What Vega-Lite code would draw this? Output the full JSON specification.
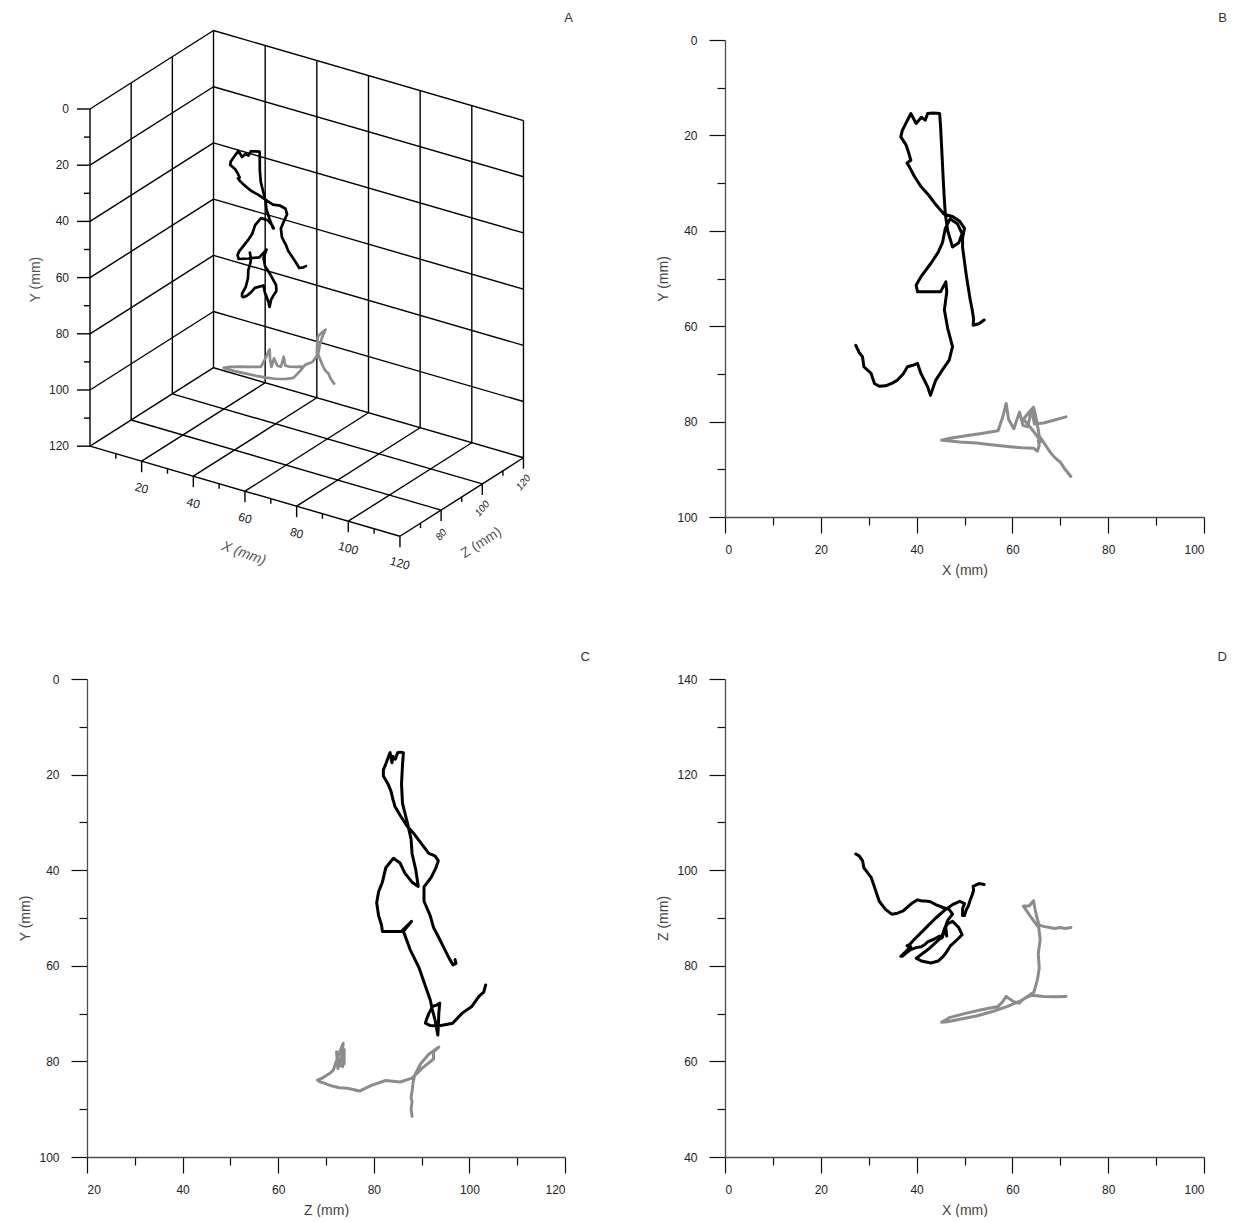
{
  "$schema": "https://vega.github.io/schema/vega-lite/v6.json",
  "background": "white",
  "padding": {"left": 18, "top": 11, "right": 0, "bottom": 0},
  "config": {
    "view": {"stroke": null},
    "font": "Liberation Sans",
    "axis": {
      "grid": false,
      "domainColor": "#4d4d4d",
      "domainWidth": 1.3,
      "tickColor": "#111111",
      "tickWidth": 1.2,
      "labelFont": "Liberation Sans",
      "labelFontSize": 12,
      "labelColor": "#222222",
      "titleFont": "Liberation Sans",
      "titleFontSize": 14,
      "titleFontWeight": "normal",
      "titleColor": "#444444"
    },
    "title": {"font": "Liberation Sans", "fontSize": 13, "fontWeight": "normal", "color": "#333333", "anchor": "end", "frame": "group"}
  },
  "datasets": {
    "tracks": [
      {"track": "T1", "i": 1, "X": 27.3, "Y": 64.0, "Z": 103.4},
      {"track": "T1", "i": 2, "X": 28.0, "Y": 65.5, "Z": 103.0},
      {"track": "T1", "i": 3, "X": 28.7, "Y": 66.4, "Z": 102.0},
      {"track": "T1", "i": 4, "X": 29.0, "Y": 68.5, "Z": 100.5},
      {"track": "T1", "i": 5, "X": 30.5, "Y": 69.9, "Z": 98.5},
      {"track": "T1", "i": 6, "X": 31.2, "Y": 72.0, "Z": 96.5},
      {"track": "T1", "i": 7, "X": 32.2, "Y": 72.6, "Z": 93.5},
      {"track": "T1", "i": 8, "X": 33.5, "Y": 72.5, "Z": 91.8},
      {"track": "T1", "i": 9, "X": 34.8, "Y": 72.0, "Z": 90.8},
      {"track": "T1", "i": 10, "X": 36.0, "Y": 71.3, "Z": 91.0},
      {"track": "T1", "i": 11, "X": 37.2, "Y": 70.0, "Z": 91.5},
      {"track": "T1", "i": 12, "X": 38.1, "Y": 68.5, "Z": 92.3},
      {"track": "T1", "i": 13, "X": 39.2, "Y": 68.2, "Z": 93.2},
      {"track": "T1", "i": 14, "X": 40.2, "Y": 67.8, "Z": 93.8},
      {"track": "T1", "i": 15, "X": 40.9, "Y": 69.9, "Z": 93.6},
      {"track": "T1", "i": 16, "X": 42.3, "Y": 72.7, "Z": 93.5},
      {"track": "T1", "i": 17, "X": 42.9, "Y": 74.5, "Z": 93.4},
      {"track": "T1", "i": 18, "X": 44.0, "Y": 71.3, "Z": 92.8},
      {"track": "T1", "i": 19, "X": 45.5, "Y": 69.0, "Z": 92.2},
      {"track": "T1", "i": 20, "X": 46.8, "Y": 67.1, "Z": 91.8},
      {"track": "T1", "i": 21, "X": 47.5, "Y": 64.3, "Z": 90.8},
      {"track": "T1", "i": 22, "X": 46.5, "Y": 60.5, "Z": 89.5},
      {"track": "T1", "i": 23, "X": 45.8, "Y": 56.6, "Z": 87.6},
      {"track": "T1", "i": 24, "X": 46.3, "Y": 52.8, "Z": 86.2},
      {"track": "T1", "i": 25, "X": 46.1, "Y": 50.7, "Z": 87.9},
      {"track": "T1", "i": 26, "X": 45.0, "Y": 52.8, "Z": 85.8},
      {"track": "T1", "i": 27, "X": 42.5, "Y": 52.8, "Z": 83.5},
      {"track": "T1", "i": 28, "X": 40.2, "Y": 52.8, "Z": 81.8},
      {"track": "T1", "i": 29, "X": 39.9, "Y": 51.4, "Z": 81.6},
      {"track": "T1", "i": 30, "X": 41.0, "Y": 49.5, "Z": 81.0},
      {"track": "T1", "i": 31, "X": 43.0, "Y": 46.8, "Z": 80.6},
      {"track": "T1", "i": 32, "X": 44.5, "Y": 44.5, "Z": 81.0},
      {"track": "T1", "i": 33, "X": 45.4, "Y": 42.5, "Z": 81.8},
      {"track": "T1", "i": 34, "X": 46.0, "Y": 39.5, "Z": 82.5},
      {"track": "T1", "i": 35, "X": 47.0, "Y": 37.5, "Z": 84.1},
      {"track": "T1", "i": 36, "X": 48.5, "Y": 38.5, "Z": 85.5},
      {"track": "T1", "i": 37, "X": 49.5, "Y": 40.6, "Z": 86.5},
      {"track": "T1", "i": 38, "X": 48.8, "Y": 42.5, "Z": 88.0},
      {"track": "T1", "i": 39, "X": 47.5, "Y": 43.4, "Z": 89.3},
      {"track": "T1", "i": 40, "X": 46.5, "Y": 40.0, "Z": 88.8},
      {"track": "T1", "i": 41, "X": 46.0, "Y": 36.5, "Z": 88.0},
      {"track": "T1", "i": 42, "X": 45.8, "Y": 33.5, "Z": 87.8},
      {"track": "T1", "i": 43, "X": 45.6, "Y": 30.0, "Z": 87.0},
      {"track": "T1", "i": 44, "X": 45.4, "Y": 26.0, "Z": 86.0},
      {"track": "T1", "i": 45, "X": 45.2, "Y": 22.0, "Z": 85.8},
      {"track": "T1", "i": 46, "X": 45.0, "Y": 18.0, "Z": 86.0},
      {"track": "T1", "i": 47, "X": 44.8, "Y": 15.4, "Z": 86.2},
      {"track": "T1", "i": 48, "X": 43.5, "Y": 15.3, "Z": 85.5},
      {"track": "T1", "i": 49, "X": 42.3, "Y": 15.4, "Z": 85.0},
      {"track": "T1", "i": 50, "X": 41.8, "Y": 16.8, "Z": 84.5},
      {"track": "T1", "i": 51, "X": 41.0, "Y": 16.2, "Z": 84.0},
      {"track": "T1", "i": 52, "X": 39.9, "Y": 17.5, "Z": 83.8},
      {"track": "T1", "i": 53, "X": 38.8, "Y": 15.4, "Z": 83.4},
      {"track": "T1", "i": 54, "X": 37.6, "Y": 17.8, "Z": 82.5},
      {"track": "T1", "i": 55, "X": 37.0, "Y": 19.0, "Z": 82.0},
      {"track": "T1", "i": 56, "X": 36.7, "Y": 20.3, "Z": 82.0},
      {"track": "T1", "i": 57, "X": 37.8, "Y": 22.0, "Z": 83.0},
      {"track": "T1", "i": 58, "X": 38.3, "Y": 23.5, "Z": 83.6},
      {"track": "T1", "i": 59, "X": 38.8, "Y": 25.2, "Z": 84.0},
      {"track": "T1", "i": 60, "X": 38.0, "Y": 25.8, "Z": 84.2},
      {"track": "T1", "i": 61, "X": 38.5, "Y": 26.6, "Z": 84.4},
      {"track": "T1", "i": 62, "X": 39.5, "Y": 28.5, "Z": 85.5},
      {"track": "T1", "i": 63, "X": 40.9, "Y": 30.7, "Z": 86.9},
      {"track": "T1", "i": 64, "X": 42.5, "Y": 32.5, "Z": 88.5},
      {"track": "T1", "i": 65, "X": 44.0, "Y": 34.5, "Z": 90.0},
      {"track": "T1", "i": 66, "X": 45.7, "Y": 36.5, "Z": 91.5},
      {"track": "T1", "i": 67, "X": 47.5, "Y": 37.0, "Z": 92.8},
      {"track": "T1", "i": 68, "X": 49.0, "Y": 38.0, "Z": 93.5},
      {"track": "T1", "i": 69, "X": 50.0, "Y": 39.5, "Z": 93.0},
      {"track": "T1", "i": 70, "X": 49.6, "Y": 41.5, "Z": 92.0},
      {"track": "T1", "i": 71, "X": 49.6, "Y": 43.5, "Z": 90.5},
      {"track": "T1", "i": 72, "X": 50.0, "Y": 46.5, "Z": 90.5},
      {"track": "T1", "i": 73, "X": 50.4, "Y": 49.5, "Z": 91.8},
      {"track": "T1", "i": 74, "X": 50.8, "Y": 52.0, "Z": 92.5},
      {"track": "T1", "i": 75, "X": 51.2, "Y": 54.5, "Z": 93.8},
      {"track": "T1", "i": 76, "X": 51.6, "Y": 56.5, "Z": 94.8},
      {"track": "T1", "i": 77, "X": 51.9, "Y": 58.5, "Z": 95.8},
      {"track": "T1", "i": 78, "X": 51.8, "Y": 59.8, "Z": 96.6},
      {"track": "T1", "i": 79, "X": 53.0, "Y": 59.5, "Z": 97.2},
      {"track": "T1", "i": 80, "X": 54.1, "Y": 58.7, "Z": 97.0},
      {"track": "T2", "i": 1, "X": 72.2, "Y": 91.5, "Z": 88.0},
      {"track": "T2", "i": 2, "X": 71.0, "Y": 90.0, "Z": 87.8},
      {"track": "T2", "i": 3, "X": 70.0, "Y": 88.5, "Z": 88.0},
      {"track": "T2", "i": 4, "X": 68.8, "Y": 87.5, "Z": 87.8},
      {"track": "T2", "i": 5, "X": 67.8, "Y": 86.3, "Z": 88.0},
      {"track": "T2", "i": 6, "X": 66.7, "Y": 84.6, "Z": 88.2},
      {"track": "T2", "i": 7, "X": 65.6, "Y": 83.0, "Z": 88.5},
      {"track": "T2", "i": 8, "X": 65.2, "Y": 80.5, "Z": 89.8},
      {"track": "T2", "i": 9, "X": 64.8, "Y": 78.5, "Z": 91.5},
      {"track": "T2", "i": 10, "X": 64.4, "Y": 77.0, "Z": 93.6},
      {"track": "T2", "i": 11, "X": 63.5, "Y": 78.0, "Z": 92.5},
      {"track": "T2", "i": 12, "X": 62.3, "Y": 79.5, "Z": 92.5},
      {"track": "T2", "i": 13, "X": 64.0, "Y": 81.5, "Z": 90.0},
      {"track": "T2", "i": 14, "X": 65.5, "Y": 83.5, "Z": 88.0},
      {"track": "T2", "i": 15, "X": 65.8, "Y": 84.3, "Z": 85.5},
      {"track": "T2", "i": 16, "X": 65.4, "Y": 84.0, "Z": 82.5},
      {"track": "T2", "i": 17, "X": 65.6, "Y": 85.0, "Z": 79.5},
      {"track": "T2", "i": 18, "X": 65.2, "Y": 86.2, "Z": 77.0},
      {"track": "T2", "i": 19, "X": 64.5, "Y": 85.6, "Z": 74.5},
      {"track": "T2", "i": 20, "X": 62.0, "Y": 85.5, "Z": 72.8},
      {"track": "T2", "i": 21, "X": 59.0, "Y": 85.2, "Z": 71.5},
      {"track": "T2", "i": 22, "X": 56.0, "Y": 84.9, "Z": 70.5},
      {"track": "T2", "i": 23, "X": 52.5, "Y": 84.5, "Z": 69.5},
      {"track": "T2", "i": 24, "X": 49.0, "Y": 84.3, "Z": 68.8},
      {"track": "T2", "i": 25, "X": 46.5, "Y": 84.0, "Z": 68.3},
      {"track": "T2", "i": 26, "X": 45.2, "Y": 83.9, "Z": 68.2},
      {"track": "T2", "i": 27, "X": 47.0, "Y": 83.5, "Z": 69.2},
      {"track": "T2", "i": 28, "X": 50.0, "Y": 83.0, "Z": 70.0},
      {"track": "T2", "i": 29, "X": 53.5, "Y": 82.5, "Z": 70.8},
      {"track": "T2", "i": 30, "X": 57.0, "Y": 81.9, "Z": 71.5},
      {"track": "T2", "i": 31, "X": 58.0, "Y": 79.0, "Z": 72.5},
      {"track": "T2", "i": 32, "X": 58.7, "Y": 76.2, "Z": 73.6},
      {"track": "T2", "i": 33, "X": 59.2, "Y": 79.5, "Z": 73.2},
      {"track": "T2", "i": 34, "X": 60.3, "Y": 81.5, "Z": 72.5},
      {"track": "T2", "i": 35, "X": 61.5, "Y": 78.0, "Z": 72.2},
      {"track": "T2", "i": 36, "X": 62.2, "Y": 80.8, "Z": 73.0},
      {"track": "T2", "i": 37, "X": 63.2, "Y": 81.1, "Z": 73.5},
      {"track": "T2", "i": 38, "X": 64.0, "Y": 77.5, "Z": 73.8},
      {"track": "T2", "i": 39, "X": 64.6, "Y": 80.5, "Z": 73.8},
      {"track": "T2", "i": 40, "X": 66.5, "Y": 80.3, "Z": 73.6},
      {"track": "T2", "i": 41, "X": 69.0, "Y": 79.6, "Z": 73.5},
      {"track": "T2", "i": 42, "X": 71.2, "Y": 79.0, "Z": 73.6}
    ],
    "frame": [
      {"X1": 0, "Y1": 0, "Z1": 120, "X2": 0, "Y2": 120, "Z2": 120},
      {"X1": 20, "Y1": 0, "Z1": 120, "X2": 20, "Y2": 120, "Z2": 120},
      {"X1": 40, "Y1": 0, "Z1": 120, "X2": 40, "Y2": 120, "Z2": 120},
      {"X1": 60, "Y1": 0, "Z1": 120, "X2": 60, "Y2": 120, "Z2": 120},
      {"X1": 80, "Y1": 0, "Z1": 120, "X2": 80, "Y2": 120, "Z2": 120},
      {"X1": 100, "Y1": 0, "Z1": 120, "X2": 100, "Y2": 120, "Z2": 120},
      {"X1": 120, "Y1": 0, "Z1": 120, "X2": 120, "Y2": 120, "Z2": 120},
      {"X1": 0, "Y1": 0, "Z1": 120, "X2": 120, "Y2": 0, "Z2": 120},
      {"X1": 0, "Y1": 20, "Z1": 120, "X2": 120, "Y2": 20, "Z2": 120},
      {"X1": 0, "Y1": 40, "Z1": 120, "X2": 120, "Y2": 40, "Z2": 120},
      {"X1": 0, "Y1": 60, "Z1": 120, "X2": 120, "Y2": 60, "Z2": 120},
      {"X1": 0, "Y1": 80, "Z1": 120, "X2": 120, "Y2": 80, "Z2": 120},
      {"X1": 0, "Y1": 100, "Z1": 120, "X2": 120, "Y2": 100, "Z2": 120},
      {"X1": 0, "Y1": 120, "Z1": 120, "X2": 120, "Y2": 120, "Z2": 120},
      {"X1": 0, "Y1": 0, "Z1": 60, "X2": 0, "Y2": 120, "Z2": 60},
      {"X1": 0, "Y1": 0, "Z1": 80, "X2": 0, "Y2": 120, "Z2": 80},
      {"X1": 0, "Y1": 0, "Z1": 100, "X2": 0, "Y2": 120, "Z2": 100},
      {"X1": 0, "Y1": 0, "Z1": 60, "X2": 0, "Y2": 0, "Z2": 120},
      {"X1": 0, "Y1": 20, "Z1": 60, "X2": 0, "Y2": 20, "Z2": 120},
      {"X1": 0, "Y1": 40, "Z1": 60, "X2": 0, "Y2": 40, "Z2": 120},
      {"X1": 0, "Y1": 60, "Z1": 60, "X2": 0, "Y2": 60, "Z2": 120},
      {"X1": 0, "Y1": 80, "Z1": 60, "X2": 0, "Y2": 80, "Z2": 120},
      {"X1": 0, "Y1": 100, "Z1": 60, "X2": 0, "Y2": 100, "Z2": 120},
      {"X1": 0, "Y1": 120, "Z1": 60, "X2": 0, "Y2": 120, "Z2": 120},
      {"X1": 20, "Y1": 120, "Z1": 60, "X2": 20, "Y2": 120, "Z2": 120},
      {"X1": 40, "Y1": 120, "Z1": 60, "X2": 40, "Y2": 120, "Z2": 120},
      {"X1": 60, "Y1": 120, "Z1": 60, "X2": 60, "Y2": 120, "Z2": 120},
      {"X1": 80, "Y1": 120, "Z1": 60, "X2": 80, "Y2": 120, "Z2": 120},
      {"X1": 100, "Y1": 120, "Z1": 60, "X2": 100, "Y2": 120, "Z2": 120},
      {"X1": 120, "Y1": 120, "Z1": 60, "X2": 120, "Y2": 120, "Z2": 120},
      {"X1": 0, "Y1": 120, "Z1": 60, "X2": 120, "Y2": 120, "Z2": 60},
      {"X1": 0, "Y1": 120, "Z1": 80, "X2": 120, "Y2": 120, "Z2": 80},
      {"X1": 0, "Y1": 120, "Z1": 100, "X2": 120, "Y2": 120, "Z2": 100}
    ],
    "ticks3d": [
      {"ax": "Y", "val": 0, "X": 0, "Y": 0, "Z": 60},
      {"ax": "Y", "val": 10, "X": 0, "Y": 10, "Z": 60},
      {"ax": "Y", "val": 20, "X": 0, "Y": 20, "Z": 60},
      {"ax": "Y", "val": 30, "X": 0, "Y": 30, "Z": 60},
      {"ax": "Y", "val": 40, "X": 0, "Y": 40, "Z": 60},
      {"ax": "Y", "val": 50, "X": 0, "Y": 50, "Z": 60},
      {"ax": "Y", "val": 60, "X": 0, "Y": 60, "Z": 60},
      {"ax": "Y", "val": 70, "X": 0, "Y": 70, "Z": 60},
      {"ax": "Y", "val": 80, "X": 0, "Y": 80, "Z": 60},
      {"ax": "Y", "val": 90, "X": 0, "Y": 90, "Z": 60},
      {"ax": "Y", "val": 100, "X": 0, "Y": 100, "Z": 60},
      {"ax": "Y", "val": 110, "X": 0, "Y": 110, "Z": 60},
      {"ax": "Y", "val": 120, "X": 0, "Y": 120, "Z": 60},
      {"ax": "X", "val": 10, "X": 10, "Y": 120, "Z": 60},
      {"ax": "X", "val": 20, "X": 20, "Y": 120, "Z": 60},
      {"ax": "X", "val": 30, "X": 30, "Y": 120, "Z": 60},
      {"ax": "X", "val": 40, "X": 40, "Y": 120, "Z": 60},
      {"ax": "X", "val": 50, "X": 50, "Y": 120, "Z": 60},
      {"ax": "X", "val": 60, "X": 60, "Y": 120, "Z": 60},
      {"ax": "X", "val": 70, "X": 70, "Y": 120, "Z": 60},
      {"ax": "X", "val": 80, "X": 80, "Y": 120, "Z": 60},
      {"ax": "X", "val": 90, "X": 90, "Y": 120, "Z": 60},
      {"ax": "X", "val": 100, "X": 100, "Y": 120, "Z": 60},
      {"ax": "X", "val": 110, "X": 110, "Y": 120, "Z": 60},
      {"ax": "X", "val": 120, "X": 120, "Y": 120, "Z": 60},
      {"ax": "Z", "val": 70, "X": 120, "Y": 120, "Z": 70},
      {"ax": "Z", "val": 80, "X": 120, "Y": 120, "Z": 80},
      {"ax": "Z", "val": 90, "X": 120, "Y": 120, "Z": 90},
      {"ax": "Z", "val": 100, "X": 120, "Y": 120, "Z": 100},
      {"ax": "Z", "val": 110, "X": 120, "Y": 120, "Z": 110},
      {"ax": "Z", "val": 120, "X": 120, "Y": 120, "Z": 120}
    ],
    "titles3d": [
      {"ax": "X", "name": "X (mm)", "X": 60, "Y": 120, "Z": 60},
      {"ax": "Y", "name": "Y (mm)", "X": 0, "Y": 60, "Z": 60},
      {"ax": "Z", "name": "Z (mm)", "X": 120, "Y": 120, "Z": 100}
    ]
  },
  "columns": 2,
  "spacing": {"row": 162, "column": 160},
  "bounds": "flush",
  "concat": [
    {
      "width": 478,
      "height": 477,
      "title": {"text": "A", "dx": 8, "offset": 5},
      "encoding": {
        "x": {"field": "u", "type": "quantitative", "scale": {"domain": [-1.161, 183.9], "nice": false, "zero": false}, "axis": null},
        "y": {"field": "v", "type": "quantitative", "scale": {"domain": [-24.56, 145.2], "reverse": true, "nice": false, "zero": false}, "axis": null}
      },
      "layer": [
        {
          "data": {"name": "frame"},
          "transform": [
            {"calculate": "datum.X1 + 0.797 * (datum.Z1 - 60)", "as": "u"},
            {"calculate": "datum.Y1 + 0.267 * datum.X1 - 0.4655 * (datum.Z1 - 60)", "as": "v"},
            {"calculate": "datum.X2 + 0.797 * (datum.Z2 - 60)", "as": "u2"},
            {"calculate": "datum.Y2 + 0.267 * datum.X2 - 0.4655 * (datum.Z2 - 60)", "as": "v2"}
          ],
          "mark": {"type": "rule", "color": "#000000", "strokeWidth": 1.4},
          "encoding": {"x2": {"field": "u2"}, "y2": {"field": "v2"}}
        },
        {
          "data": {"name": "ticks3d"},
          "transform": [
            {"filter": "datum.ax === 'Y' && datum.val % 20 === 0"},
            {"calculate": "datum.X + 0.797 * (datum.Z - 60)", "as": "u"},
            {"calculate": "datum.Y + 0.267 * datum.X - 0.4655 * (datum.Z - 60)", "as": "v"}
          ],
          "mark": {"type": "rule", "color": "#000000", "strokeWidth": 1.4, "x2Offset": -13},
          "encoding": {"x2": {"field": "u"}}
        },
        {
          "data": {"name": "ticks3d"},
          "transform": [
            {"filter": "datum.ax === 'Y' && datum.val % 20 !== 0"},
            {"calculate": "datum.X + 0.797 * (datum.Z - 60)", "as": "u"},
            {"calculate": "datum.Y + 0.267 * datum.X - 0.4655 * (datum.Z - 60)", "as": "v"}
          ],
          "mark": {"type": "rule", "color": "#000000", "strokeWidth": 1.4, "x2Offset": -6},
          "encoding": {"x2": {"field": "u"}}
        },
        {
          "data": {"name": "ticks3d"},
          "transform": [
            {"filter": "datum.ax !== 'Y' && datum.val % 20 === 0"},
            {"calculate": "datum.X + 0.797 * (datum.Z - 60)", "as": "u"},
            {"calculate": "datum.Y + 0.267 * datum.X - 0.4655 * (datum.Z - 60)", "as": "v"}
          ],
          "mark": {"type": "rule", "color": "#000000", "strokeWidth": 1.4, "y2Offset": 11},
          "encoding": {"y2": {"field": "v"}}
        },
        {
          "data": {"name": "ticks3d"},
          "transform": [
            {"filter": "datum.ax !== 'Y' && datum.val % 20 !== 0"},
            {"calculate": "datum.X + 0.797 * (datum.Z - 60)", "as": "u"},
            {"calculate": "datum.Y + 0.267 * datum.X - 0.4655 * (datum.Z - 60)", "as": "v"}
          ],
          "mark": {"type": "rule", "color": "#000000", "strokeWidth": 1.4, "y2Offset": 5},
          "encoding": {"y2": {"field": "v"}}
        },
        {
          "data": {"name": "ticks3d"},
          "transform": [
            {"filter": "datum.ax === 'Y' && datum.val % 20 === 0"},
            {"calculate": "datum.X + 0.797 * (datum.Z - 60)", "as": "u"},
            {"calculate": "datum.Y + 0.267 * datum.X - 0.4655 * (datum.Z - 60)", "as": "v"}
          ],
          "mark": {"type": "text", "align": "right", "baseline": "middle", "dx": -21, "fontSize": 12, "color": "#222222"},
          "encoding": {"text": {"field": "val", "type": "quantitative"}}
        },
        {
          "data": {"name": "ticks3d"},
          "transform": [
            {"filter": "datum.ax === 'X' && datum.val % 20 === 0"},
            {"calculate": "datum.X + 0.797 * (datum.Z - 60)", "as": "u"},
            {"calculate": "datum.Y + 0.267 * datum.X - 0.4655 * (datum.Z - 60)", "as": "v"}
          ],
          "mark": {"type": "text", "align": "center", "baseline": "middle", "angle": 16, "dx": 7.5, "dy": 26, "fontSize": 12, "color": "#222222"},
          "encoding": {"text": {"field": "val", "type": "quantitative"}}
        },
        {
          "data": {"name": "ticks3d"},
          "transform": [
            {"filter": "datum.ax === 'Z' && datum.val % 20 === 0"},
            {"calculate": "datum.X + 0.797 * (datum.Z - 60)", "as": "u"},
            {"calculate": "datum.Y + 0.267 * datum.X - 0.4655 * (datum.Z - 60)", "as": "v"}
          ],
          "mark": {"type": "text", "align": "center", "baseline": "middle", "angle": -50, "dx": -19, "dy": 16, "fontSize": 10, "fontStyle": "italic", "color": "#222222"},
          "encoding": {"text": {"field": "val", "type": "quantitative"}}
        },
        {
          "data": {"name": "titles3d"},
          "transform": [
            {"filter": "datum.ax === 'X'"},
            {"calculate": "datum.X + 0.797 * (datum.Z - 60)", "as": "u"},
            {"calculate": "datum.Y + 0.267 * datum.X - 0.4655 * (datum.Z - 60)", "as": "v"}
          ],
          "mark": {"type": "text", "align": "center", "baseline": "middle", "angle": 20, "dx": 20, "dy": 59, "fontSize": 14, "fontStyle": "italic", "color": "#555555"},
          "encoding": {"text": {"field": "name", "type": "nominal"}}
        },
        {
          "data": {"name": "titles3d"},
          "transform": [
            {"filter": "datum.ax === 'Y'"},
            {"calculate": "datum.X + 0.797 * (datum.Z - 60)", "as": "u"},
            {"calculate": "datum.Y + 0.267 * datum.X - 0.4655 * (datum.Z - 60)", "as": "v"}
          ],
          "mark": {"type": "text", "align": "center", "baseline": "middle", "angle": -90, "dx": -2, "dy": -54, "fontSize": 14, "color": "#555555"},
          "encoding": {"text": {"field": "name", "type": "nominal"}}
        },
        {
          "data": {"name": "titles3d"},
          "transform": [
            {"filter": "datum.ax === 'Z'"},
            {"calculate": "datum.X + 0.797 * (datum.Z - 60)", "as": "u"},
            {"calculate": "datum.Y + 0.267 * datum.X - 0.4655 * (datum.Z - 60)", "as": "v"}
          ],
          "mark": {"type": "text", "align": "center", "baseline": "middle", "angle": -33, "dx": -33, "dy": 49, "fontSize": 14, "color": "#555555"},
          "encoding": {"text": {"field": "name", "type": "nominal"}}
        },
        {
          "data": {"name": "tracks"},
          "transform": [
            {"calculate": "datum.X + 0.797 * (datum.Z - 60)", "as": "u"},
            {"calculate": "datum.Y + 0.267 * datum.X - 0.4655 * (datum.Z - 60)", "as": "v"}
          ],
          "mark": {"type": "line", "strokeWidth": 2.7, "strokeJoin": "round", "strokeCap": "round"},
          "encoding": {
            "color": {"field": "track", "type": "nominal", "scale": {"domain": ["T1", "T2"], "range": ["#000000", "#8c8c8c"]}, "legend": null},
            "order": {"field": "i", "type": "quantitative"}
          }
        }
      ]
    },
    {
      "width": 479,
      "height": 477,
      "title": {"text": "B", "dx": 23, "offset": 9},
      "data": {"name": "tracks"},
      "mark": {"type": "line", "strokeWidth": 3, "strokeJoin": "round", "strokeCap": "round"},
      "encoding": {
        "x": {"field": "X", "type": "quantitative", "scale": {"domain": [0, 100], "nice": false},
          "axis": {"title": "X (mm)", "values": [0, 10, 20, 30, 40, 50, 60, 70, 80, 90, 100], "labelExpr": "datum.value % 20 === 0 ? datum.label : ''", "tickSize": {"condition": {"test": "datum.value % 20 === 0", "value": 16}, "value": 8}, "labelPadding": 11, "titlePadding": 8}},
        "y": {"field": "Y", "type": "quantitative", "scale": {"domain": [0, 100], "reverse": true, "nice": false},
          "axis": {"title": "Y (mm)", "values": [0, 10, 20, 30, 40, 50, 60, 70, 80, 90, 100], "labelExpr": "datum.value % 20 === 0 ? datum.label : ''", "tickSize": {"condition": {"test": "datum.value % 20 === 0", "value": 16}, "value": 8}, "labelPadding": 12, "titlePadding": 6}},
        "color": {"field": "track", "type": "nominal", "scale": {"domain": ["T1", "T2"], "range": ["#000000", "#8c8c8c"]}, "legend": null},
        "order": {"field": "i", "type": "quantitative"}
      }
    },
    {
      "width": 478,
      "height": 478,
      "title": {"text": "C", "dx": 25, "offset": 9},
      "data": {"name": "tracks"},
      "mark": {"type": "line", "strokeWidth": 3, "strokeJoin": "round", "strokeCap": "round"},
      "encoding": {
        "x": {"field": "Z", "type": "quantitative", "scale": {"domain": [20, 120], "nice": false, "zero": false},
          "axis": {"title": "Z (mm)", "values": [20, 30, 40, 50, 60, 70, 80, 90, 100, 110, 120], "labelExpr": "datum.value % 20 === 0 ? datum.label : ''", "tickSize": {"condition": {"test": "datum.value % 20 === 0", "value": 16}, "value": 8}, "labelPadding": 11, "titlePadding": 8}},
        "y": {"field": "Y", "type": "quantitative", "scale": {"domain": [0, 100], "reverse": true, "nice": false},
          "axis": {"title": "Y (mm)", "values": [0, 10, 20, 30, 40, 50, 60, 70, 80, 90, 100], "labelExpr": "datum.value % 20 === 0 ? datum.label : ''", "tickSize": {"condition": {"test": "datum.value % 20 === 0", "value": 16}, "value": 8}, "labelPadding": 12, "titlePadding": 6}},
        "color": {"field": "track", "type": "nominal", "scale": {"domain": ["T1", "T2"], "range": ["#000000", "#8c8c8c"]}, "legend": null},
        "order": {"field": "i", "type": "quantitative"}
      }
    },
    {
      "width": 479,
      "height": 478,
      "title": {"text": "D", "dx": 23, "offset": 9},
      "data": {"name": "tracks"},
      "mark": {"type": "line", "strokeWidth": 3, "strokeJoin": "round", "strokeCap": "round"},
      "encoding": {
        "x": {"field": "X", "type": "quantitative", "scale": {"domain": [0, 100], "nice": false},
          "axis": {"title": "X (mm)", "values": [0, 10, 20, 30, 40, 50, 60, 70, 80, 90, 100], "labelExpr": "datum.value % 20 === 0 ? datum.label : ''", "tickSize": {"condition": {"test": "datum.value % 20 === 0", "value": 16}, "value": 8}, "labelPadding": 11, "titlePadding": 8}},
        "y": {"field": "Z", "type": "quantitative", "scale": {"domain": [40, 140], "nice": false, "zero": false},
          "axis": {"title": "Z (mm)", "values": [40, 50, 60, 70, 80, 90, 100, 110, 120, 130, 140], "labelExpr": "datum.value % 20 === 0 ? datum.label : ''", "tickSize": {"condition": {"test": "datum.value % 20 === 0", "value": 16}, "value": 8}, "labelPadding": 12, "titlePadding": 6}},
        "color": {"field": "track", "type": "nominal", "scale": {"domain": ["T1", "T2"], "range": ["#000000", "#8c8c8c"]}, "legend": null},
        "order": {"field": "i", "type": "quantitative"}
      }
    }
  ]
}
